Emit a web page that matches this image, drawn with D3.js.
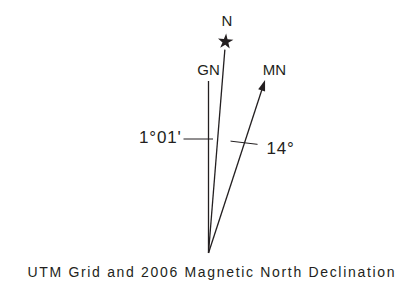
<!DOCTYPE html>
<html>
<head>
<meta charset="utf-8">
<script src="https://cdn.jsdelivr.net/npm/d3@7"></script>
<style>
  body { margin: 0; background: #fff; }
  text { font-family: "Liberation Sans", Arial, sans-serif; fill: #231f20; }
</style>
</head>
<body>
<div id="container"></div>
<script>
/* CONSTANTS AND GLOBALS */
const width = 400,
  height = 287,
  origin = {x: 208.5, y: 253};

/* DATA */
// directions, drawn angle (degrees east of grid north, schematic) and length
const lineNames = ["GN", "N", "MN"];
const drawAngles = [0, 4.6, 18.1];
const lineLengths = [172, 204, 182];
const labelRadius = [180, 231, 193];
const declLabels = ["1°01'", "14°"];
const caption = "UTM Grid and 2006 Magnetic North Declination";

const ink = "#231f20";

// SCALES
const angleScale = d3.scaleLinear().domain([0, 360]).range([0, 2 * Math.PI]);
const rScale = d3.scaleLinear().domain([0, 100]).range([0, 100]);

const pt = (deg, r) => {
  const p = d3.pointRadial(angleScale(deg), rScale(r));
  return [origin.x + p[0], origin.y + p[1]];
};

// CREATE SVG ELEMENT
const svg = d3.select("#container")
  .append("svg")
  .attr("width", width)
  .attr("height", height);

// LINES
svg.selectAll(".dir")
  .data(lineNames)
  .join("line")
  .attr("class", "dir")
  .attr("x1", origin.x)
  .attr("y1", origin.y)
  .attr("x2", (d, i) => pt(drawAngles[i], lineLengths[i] - (d == "MN" ? 6 : 0))[0])
  .attr("y2", (d, i) => pt(drawAngles[i], lineLengths[i] - (d == "MN" ? 6 : 0))[1])
  .attr("stroke", ink)
  .attr("stroke-width", 1.3);

// star on true north
const starPos = pt(drawAngles[1], lineLengths[1] + 8);
svg.append("path")
  .attr("d", d3.symbol(d3.symbolStar, 74)())
  .attr("transform", `translate(${starPos[0]},${starPos[1]}) rotate(${drawAngles[1]})`)
  .attr("fill", ink);

// arrow head on magnetic north
const tip = pt(drawAngles[2], lineLengths[2]);
svg.append("path")
  .attr("d", "M0,0 L-3.6,11 L3.6,11 Z")
  .attr("transform", `translate(${tip[0]},${tip[1]}) rotate(${drawAngles[2]})`)
  .attr("fill", ink);

// direction labels
svg.selectAll(".dirLabel")
  .data(lineNames)
  .join("text")
  .attr("class", "dirLabel")
  .attr("x", (d, i) => pt(drawAngles[i], labelRadius[i])[0] + (d == "MN" ? 6 : 0))
  .attr("y", (d, i) => d == "N" ? 26 : 75)
  .attr("text-anchor", "middle")
  .style("font-size", "15px")
  .text(d => d);

// declination ticks and labels
const t1 = pt(drawAngles[0], 114);
svg.append("line")
  .attr("x1", t1[0] - 25).attr("y1", t1[1])
  .attr("x2", t1[0] + 4.5).attr("y2", t1[1])
  .attr("stroke", ink).attr("stroke-width", 1);
svg.append("text")
  .attr("x", t1[0] - 27).attr("y", t1[1] + 3.5)
  .attr("text-anchor", "end")
  .style("font-size", "17px")
  .style("letter-spacing", "0.8px")
  .text(declLabels[0]);

const t2 = pt(drawAngles[2], 116);
svg.append("line")
  .attr("x1", t2[0] - 14).attr("y1", t2[1] - 1.6)
  .attr("x2", t2[0] + 13).attr("y2", t2[1] + 1.6)
  .attr("stroke", ink).attr("stroke-width", 1);
svg.append("text")
  .attr("x", t2[0] + 22).attr("y", t2[1] + 11)
  .style("font-size", "17px")
  .style("letter-spacing", "0.8px")
  .text(declLabels[1]);

// caption
svg.append("text")
  .attr("x", 211)
  .attr("y", 276.5)
  .attr("text-anchor", "middle")
  .style("font-size", "14px")
  .attr("textLength", 367)
  .attr("lengthAdjust", "spacing")
  .text(caption);
</script>
</body>
</html>
